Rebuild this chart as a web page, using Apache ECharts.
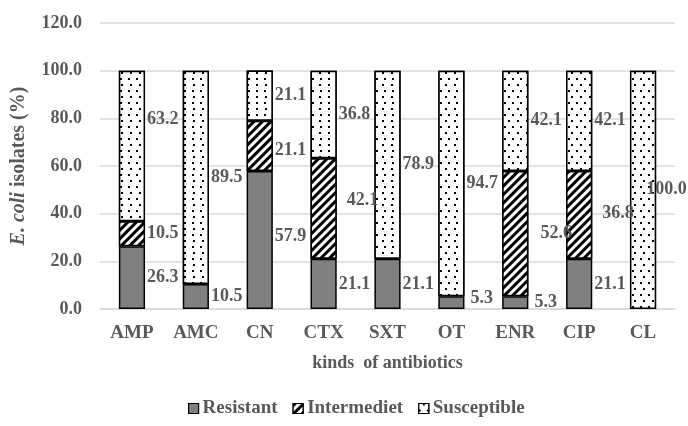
<!DOCTYPE html>
<html>
<head>
<meta charset="utf-8">
<script src="https://cdn.jsdelivr.net/npm/echarts@6/dist/echarts.min.js"></script>
<style>
html,body{margin:0;padding:0;background:#fff;}
#chart{width:688px;height:426px;}
</style>
</head>
<body>
<div id="chart"></div>
<script>
const categories = ['AMP', 'AMC', 'CN', 'CTX', 'SXT', 'OT', 'ENR', 'CIP', 'CL'];
const resistant    = [26.3, 10.5, 57.9, 21.1, 21.1, 5.3, 5.3, 21.1, 0];
const intermediate = [10.5, 0, 21.1, 42.1, 0, 0, 52.6, 36.8, 0];
const susceptible  = [63.2, 89.5, 21.1, 36.8, 78.9, 94.7, 42.1, 42.1, 100.0];
const seriesNames = ['Resistant', 'Intermediet', 'Susceptible'];
const yTicks = [0, 20, 40, 60, 80, 100, 120];

// label nudges (style only): [dx, dy] in px per series / category
const labelNudge = {
  Resistant:   { CN: [0, -4], OT: [4, -4], ENR: [4, 0] },
  Intermediet: { CN: [0, 4], CTX: [8, -8], ENR: [10, 0], CIP: [8, -2] },
  Susceptible: { AMP: [0, -27], CL: [-12, 0] }
};

const textColor = '#595959';
const font = 'Liberation Serif';

function makeData(name, values) {
  return values.map((v, i) => {
    if (v === 0) return '-';
    const n = (labelNudge[name] || {})[categories[i]];
    const item = { value: v };
    if (n) item.label = { offset: n };
    return item;
  });
}

const decals = {
  Resistant: null,
  Intermediet: {
    symbol: 'rect', symbolSize: 1, color: '#000', backgroundColor: '#fff',
    dashArrayX: [1, 0], dashArrayY: [3, 3], rotation: -Math.PI / 4
  },
  Susceptible: {
    symbol: 'rect', symbolSize: 1, color: '#000', backgroundColor: '#fff',
    dashArrayX: [[1.5, 6], [0, 3.5, 1.5, 2.5]], dashArrayY: [1.5, 3.5], rotation: 0
  }
};
const fills = { Resistant: '#808080', Intermediet: '#fff', Susceptible: '#fff' };
const valueSets = [resistant, intermediate, susceptible];

const chart = echarts.init(document.getElementById('chart'), null, { renderer: 'canvas' });
chart.setOption({
  animation: false,
  textStyle: { fontFamily: font },
  grid: { left: 100, right: 13, top: 23, bottom: 117 },
  legend: {
    bottom: 3,
    left: 183,
    icon: 'rect',
    itemWidth: 10, itemHeight: 10, itemGap: 15,
    itemStyle: { borderColor: '#000', borderWidth: 1.2 },
    textStyle: { fontFamily: font, fontWeight: 'bold', fontSize: 19, color: textColor, padding: [0, 0, 0, -1] },
    data: seriesNames
  },
  xAxis: {
    type: 'category',
    data: categories,
    axisLine: { show: true, lineStyle: { color: '#d9d9d9', width: 1.5 } },
    axisTick: { show: false },
    axisLabel: { fontFamily: font, fontWeight: 'bold', fontSize: 19, color: textColor, margin: 15 },
    name: 'kinds  of antibiotics',
    nameLocation: 'middle',
    nameGap: 45,
    nameTextStyle: { fontFamily: font, fontWeight: 'bold', fontSize: 18, color: textColor }
  },
  yAxis: {
    type: 'value',
    min: 0, max: 120, interval: 20,
    axisLine: { show: false },
    axisTick: { show: false },
    splitLine: { lineStyle: { color: '#d9d9d9', width: 1.5 } },
    axisLabel: {
      fontFamily: font, fontWeight: 'bold', fontSize: 18, color: textColor, margin: 18,
      formatter: v => yTicks.includes(v) ? v.toFixed(1) : ''
    },
    name: '{i|E. coli} isolates (%)',
    nameLocation: 'middle',
    nameGap: 71,
    nameRotate: 90,
    nameTextStyle: {
      fontFamily: font, fontWeight: 'bold', fontSize: 20, color: textColor,
      rich: { i: { fontFamily: font, fontWeight: 'bold', fontStyle: 'italic', fontSize: 20, color: textColor } }
    }
  },
  series: seriesNames.map((name, k) => {
    const itemStyle = { color: fills[name], borderColor: '#000', borderWidth: 1.5 };
    if (decals[name]) itemStyle.decal = decals[name];
    return {
      name: name,
      type: 'bar',
      stack: 'total',
      barWidth: '41%',
      data: makeData(name, valueSets[k]),
      itemStyle: itemStyle,
      label: {
        show: true,
        position: 'right',
        distance: 2,
        fontFamily: font, fontWeight: 'bold', fontSize: 18, color: textColor,
        formatter: p => Number(p.value).toFixed(1)
      }
    };
  })
});
</script>
</body>
</html>
